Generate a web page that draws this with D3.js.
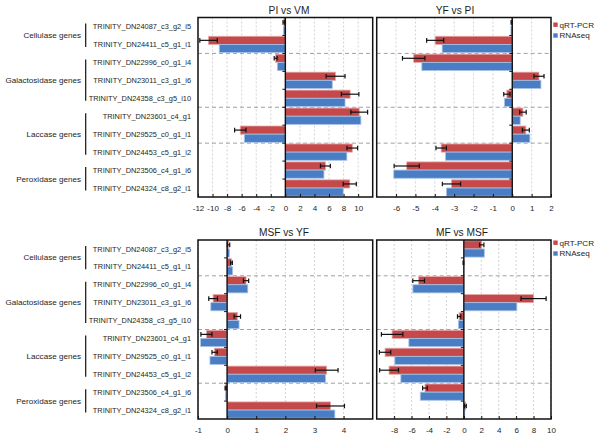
<!DOCTYPE html>
<html><head><meta charset="utf-8">
<script src="https://cdn.jsdelivr.net/npm/d3@7"></script>
<style>body{margin:0;background:#fff} svg{display:block;font-family:Arial,"Liberation Sans",Helvetica,sans-serif}</style>
</head><body><svg id="c" width="600" height="441"></svg>
<script>
// ---------- DATA ----------
const genes = [
  "TRINITY_DN24087_c3_g2_i5","TRINITY_DN24411_c5_g1_i1",
  "TRINITY_DN22996_c0_g1_i4","TRINITY_DN23011_c3_g1_i6","TRINITY_DN24358_c3_g5_i10",
  "TRINITY_DN23601_c4_g1","TRINITY_DN29525_c0_g1_i1","TRINITY_DN24453_c5_g1_i2",
  "TRINITY_DN23506_c4_g1_i6","TRINITY_DN24324_c8_g2_i1"];
const groupNames = ["Cellulase genes","Galactosidase genes","Laccase genes","Peroxidase genes"];
const groupSizes = [2,3,3,2];
const seriesNames = ["qRT-PCR","RNAseq"];
const panelTitles = ["PI vs VM","YF vs PI","MSF vs YF","MF vs MSF"];
// dashed separator lines: drawn above the gene at these indices
const sepTopRow = [2,5,7];
const sepBottomRow = [2,5,8];

const qpcrPIvsVM   = [-0.2,-10.55,-1.33,6.9,8.9,10.15,-6.19,9.2,5.5,8.85];
const errPIvsVM    = [0.12,1.2,0.2,1.3,1.2,1.15,0.78,0.73,0.68,0.9];
const rnaPIvsVM    = [-0.27,-9.08,-1.1,6.45,8.2,10.38,-5.64,8.45,5.3,7.95];

const qpcrYFvsPI   = [-0.03,-3.98,-5.09,1.38,-0.28,0.55,0.7,-3.67,-5.45,-3.14];
const errYFvsPI    = [0.03,0.44,0.58,0.26,0.16,0.17,0.18,0.27,0.65,0.47];
const rnaYFvsPI    = [-0.07,-3.62,-4.67,1.48,-0.4,0.41,0.91,-3.45,-6.12,-3.4];

const qpcrMSFvsYF  = [0.05,0.15,0.65,-0.48,0.35,-0.71,-0.43,3.42,-0.05,3.55];
const errMSFvsYF   = [0.04,0.03,0.09,0.15,0.11,0.19,0.09,0.39,0.02,0.48];
const rnaMSFvsYF   = [0.08,0.19,0.71,-0.56,0.41,-0.91,-0.59,3.38,-0.06,3.7];

const qpcrMFvsMSF  = [2.05,-0.05,-5.19,8.0,-0.54,-8.23,-9.04,-8.58,-4.46,0.18];
const errMFvsMSF   = [0.25,0.04,0.67,1.44,0.19,1.23,0.65,1.08,0.27,0.1];
const rnaMFvsMSF   = [2.35,-0.03,-5.85,6.08,-0.62,-6.31,-7.92,-7.23,-5.0,0.1];

const xDomains = [[-12,12],[-7,2],[-1,5],[-10,10]];
const xTicks = [
  [-12,-10,-8,-6,-4,-2,0,2,4,6,8,10],
  [-6,-5,-4,-3,-2,-1,0,1,2],
  [-1,0,1,2,3,4],
  [-8,-6,-4,-2,0,2,4,6,8,10]];

// ---------- LAYOUT / STYLE ----------
const colors = {"qRT-PCR":"#c5484a","RNAseq":"#4a7ec4"};
const strokes = {"qRT-PCR":"#e6a9a7","RNAseq":"#a9c3e6"};
const panels = [
  {x0:198, x1:372.7, y0:17.5, y1:197, tx:289, legend:false, sep:sepTopRow},
  {x0:376.7, x1:551, y0:17.5, y1:197, tx:455, legend:true, ly:22.5, sep:sepTopRow},
  {x0:198, x1:372.7, y0:240, y1:419, tx:284, legend:false, sep:sepBottomRow},
  {x0:376.7, x1:551, y0:240, y1:419, tx:462, legend:true, ly:240.5, sep:sepBottomRow}
];
const panelData = [
  [qpcrPIvsVM, rnaPIvsVM, errPIvsVM],
  [qpcrYFvsPI, rnaYFvsPI, errYFvsPI],
  [qpcrMSFvsYF, rnaMSFvsYF, errMSFvsYF],
  [qpcrMFvsMSF, rnaMFvsMSF, errMFvsMSF]];

const svg = d3.select("#c");
const txt = "#1e1e1e";

const groupStarts = [];
{ let s = 0; groupSizes.forEach(n => { groupStarts.push(s); s += n; }); }

// ---------- LEFT LABELS (for both rows) ----------
[0,2].forEach(pi => {
  const p = panels[pi];
  const y = d3.scaleBand().domain(genes).range([p.y0, p.y1]);
  const bw = y.bandwidth();
  const g = svg.append("g");
  g.selectAll("text.gene").data(genes).join("text")
    .attr("x", 191).attr("y", d => y(d) + bw/2)
    .attr("dy","0.35em").attr("text-anchor","end")
    .attr("font-size", 7.4).attr("fill", txt).text(d => d);
  groupNames.forEach((name, gi) => {
    const first = genes[groupStarts[gi]];
    const last = genes[groupStarts[gi] + groupSizes[gi] - 1];
    const ya = y(first) + bw/2 - 3, yb = y(last) + bw/2 + 2.5;
    g.append("line").attr("x1",85.7).attr("x2",85.7).attr("y1",ya).attr("y2",yb)
      .attr("stroke","#111").attr("stroke-width",1.2);
    g.append("text").attr("x",81).attr("y",(ya+yb)/2).attr("dy","0.35em")
      .attr("text-anchor","end").attr("font-size",8.1).attr("fill",txt).text(name);
  });
});

// ---------- PANELS ----------
panels.forEach((p, pi) => {
  const [qv, rv, ev] = panelData[pi];
  const x = d3.scaleLinear().domain(xDomains[pi]).range([p.x0, p.x1]);
  const y = d3.scaleBand().domain(genes).range([p.y0, p.y1]);
  const bw = y.bandwidth();
  const ys = d3.scaleBand().domain(seriesNames).range([0, bw]).paddingOuter(0.1);
  const g = svg.append("g");

  // vertical grid
  g.selectAll("line.grid").data(xTicks[pi].filter(t => t !== 0)).join("line")
    .attr("x1", d => x(d)).attr("x2", d => x(d)).attr("y1", p.y0).attr("y2", p.y1)
    .attr("stroke","#c8c8c8").attr("stroke-width",0.8).attr("stroke-dasharray","2,2");

  // separators
  g.selectAll("line.sep").data(p.sep).join("line")
    .attr("x1", p.x0).attr("x2", p.x1)
    .attr("y1", d => y(genes[d])).attr("y2", d => y(genes[d]))
    .attr("stroke","#a0a0a0").attr("stroke-width",1).attr("stroke-dasharray","4,3");

  // bars
  const rows = genes.map((gn, i) => ({gene: gn, q: qv[i], r: rv[i], e: ev[i]}));
  seriesNames.forEach((s, si) => {
    g.selectAll("rect.s"+si).data(rows).join("rect")
      .attr("x", d => x(Math.min(0, si ? d.r : d.q)))
      .attr("width", d => Math.abs(x(si ? d.r : d.q) - x(0)))
      .attr("y", d => y(d.gene) + ys(s))
      .attr("height", ys.bandwidth())
      .attr("fill", colors[s]).attr("stroke", strokes[s]).attr("stroke-width", 0.8);
  });

  // error bars on qRT-PCR
  const eb = g.selectAll("g.err").data(rows).join("g")
    .attr("transform", d => `translate(0,${y(d.gene) + ys("qRT-PCR") + ys.bandwidth()/2})`);
  eb.append("line").attr("x1", d => x(d.q - d.e)).attr("x2", d => x(d.q + d.e))
    .attr("stroke","#111").attr("stroke-width",1.2);
  eb.append("line").attr("x1", d => x(d.q - d.e)).attr("x2", d => x(d.q - d.e))
    .attr("y1",-2.3).attr("y2",2.3).attr("stroke","#111").attr("stroke-width",1.2);
  eb.append("line").attr("x1", d => x(d.q + d.e)).attr("x2", d => x(d.q + d.e))
    .attr("y1",-2.3).attr("y2",2.3).attr("stroke","#111").attr("stroke-width",1.2);

  // zero line with category ticks
  g.append("line").attr("x1", x(0)).attr("x2", x(0)).attr("y1", p.y0).attr("y2", p.y1)
    .attr("stroke","#111").attr("stroke-width",1.4);
  g.selectAll("line.ct").data(genes.slice(1)).join("line")
    .attr("x1", x(0) - 3).attr("x2", x(0))
    .attr("y1", d => y(d)).attr("y2", d => y(d))
    .attr("stroke","#111").attr("stroke-width",1);

  // frame
  g.append("rect").attr("x", p.x0).attr("y", p.y0)
    .attr("width", p.x1 - p.x0).attr("height", p.y1 - p.y0)
    .attr("fill","none").attr("stroke","#111").attr("stroke-width",1.5);

  // x axis
  const ax = g.append("g").attr("transform", `translate(0,${p.y1})`)
    .call(d3.axisBottom(x).tickValues(xTicks[pi]).tickSizeInner(-3).tickSizeOuter(0)
      .tickPadding(8).tickFormat(d => String(d)));
  ax.select(".domain").remove();
  ax.selectAll("line").attr("stroke","#111");
  ax.selectAll("text").attr("font-size", 8).attr("fill", txt)
    .attr("font-family","Arial, 'Liberation Sans', sans-serif");

  // title
  g.append("text").attr("x", p.tx).attr("y", p.y0 - 4)
    .attr("text-anchor","middle").attr("font-size",10.2).attr("fill",txt).text(panelTitles[pi]);

  // legend
  if (p.legend) {
    seriesNames.forEach((s, si) => {
      const ly = p.ly + si * 10.8;
      g.append("rect").attr("x",553.3).attr("y",ly).attr("width",4.4).attr("height",4.4)
        .attr("fill",colors[s]);
      g.append("text").attr("x",559.5).attr("y",ly + 2.2).attr("dy","0.35em")
        .attr("font-size",8.1).attr("fill",txt).text(s);
    });
  }
});
</script>
</body></html>
